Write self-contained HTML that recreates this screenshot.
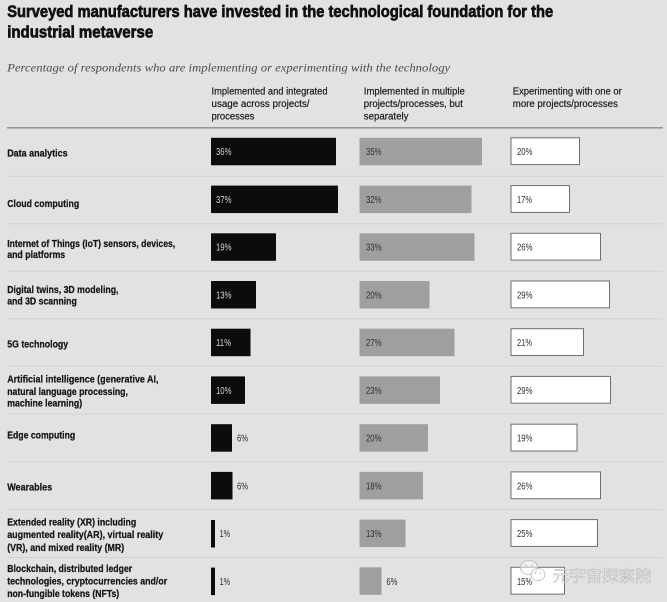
<!DOCTYPE html>
<html><head><meta charset="utf-8"><style>
html,body{margin:0;padding:0;background:#e2e3e1;}
svg{display:block;}
</style></head><body>
<svg width="667" height="602" viewBox="0 0 667 602" xmlns="http://www.w3.org/2000/svg" font-family="'Liberation Sans', sans-serif">
<rect x="0" y="0" width="667" height="602" fill="#e2e3e1"/>
<!-- title -->
<g font-size="17" font-weight="bold" fill="#111" stroke="#111" stroke-width="0.7">
<text x="7.2" y="16.8" textLength="546" lengthAdjust="spacingAndGlyphs">Surveyed manufacturers have invested in the technological foundation for the</text>
<text x="7.2" y="37.4" textLength="146" lengthAdjust="spacingAndGlyphs">industrial metaverse</text>
</g>
<text x="7.2" y="71.5" font-size="12" font-style="italic" font-family="'Liberation Serif', serif" fill="#4a4a4a" textLength="443" lengthAdjust="spacingAndGlyphs">Percentage of respondents who are implementing or experimenting with the technology</text>
<!-- headers -->
<g font-size="10" fill="#1a1a1a" stroke="#1a1a1a" stroke-width="0.2">
<text x="211.5" y="94.3" textLength="116" lengthAdjust="spacingAndGlyphs">Implemented and integrated</text>
<text x="211.5" y="107" textLength="98" lengthAdjust="spacingAndGlyphs">usage across projects/</text>
<text x="211.5" y="119.7" textLength="43" lengthAdjust="spacingAndGlyphs">processes</text>
<text x="363.8" y="94.3" textLength="101" lengthAdjust="spacingAndGlyphs">Implemented in multiple</text>
<text x="363.8" y="107" textLength="99" lengthAdjust="spacingAndGlyphs">projects/processes, but</text>
<text x="363.8" y="119.7" textLength="44.7" lengthAdjust="spacingAndGlyphs">separately</text>
<text x="512.8" y="94.3" textLength="109" lengthAdjust="spacingAndGlyphs">Experimenting with one or</text>
<text x="512.8" y="107" textLength="105" lengthAdjust="spacingAndGlyphs">more projects/processes</text>
</g>
<!-- separators -->
<g stroke="#d2d3d1" stroke-width="1">
<line x1="7" y1="176.2" x2="663" y2="176.2"/>
<line x1="7" y1="223.9" x2="663" y2="223.9"/>
<line x1="7" y1="271.2" x2="663" y2="271.2"/>
<line x1="7" y1="318.7" x2="663" y2="318.7"/>
<line x1="7" y1="366.3" x2="663" y2="366.3"/>
<line x1="7" y1="414.1" x2="663" y2="414.1"/>
<line x1="7" y1="461.8" x2="663" y2="461.8"/>
<line x1="7" y1="509.5" x2="663" y2="509.5"/>
<line x1="7" y1="557.5" x2="663" y2="557.5"/>
</g>
<line x1="7" y1="127.8" x2="663" y2="127.8" stroke="#8a8a8a" stroke-width="1.3"/>
<!-- row labels -->
<g font-size="10.5" font-weight="bold" fill="#151515" stroke="#151515" stroke-width="0.25">
<text x="7.2" y="156.7" textLength="60.4" lengthAdjust="spacingAndGlyphs">Data analytics</text>
<text x="7.2" y="207" textLength="72" lengthAdjust="spacingAndGlyphs">Cloud computing</text>
<text x="7.2" y="247" textLength="168" lengthAdjust="spacingAndGlyphs">Internet of Things (IoT) sensors, devices,</text>
<text x="7.2" y="257.8" textLength="58" lengthAdjust="spacingAndGlyphs">and platforms</text>
<text x="7.2" y="292.9" textLength="111.3" lengthAdjust="spacingAndGlyphs">Digital twins, 3D modeling,</text>
<text x="7.2" y="304.6" textLength="69.6" lengthAdjust="spacingAndGlyphs">and 3D scanning</text>
<text x="7.2" y="347.3" textLength="61" lengthAdjust="spacingAndGlyphs">5G technology</text>
<text x="7.2" y="382.6" textLength="151.3" lengthAdjust="spacingAndGlyphs">Artificial intelligence (generative AI,</text>
<text x="7.2" y="394.9" textLength="120.7" lengthAdjust="spacingAndGlyphs">natural language processing,</text>
<text x="7.2" y="406.6" textLength="75" lengthAdjust="spacingAndGlyphs">machine learning)</text>
<text x="7.2" y="438.3" textLength="68" lengthAdjust="spacingAndGlyphs">Edge computing</text>
<text x="7.2" y="490.3" textLength="45" lengthAdjust="spacingAndGlyphs">Wearables</text>
<text x="7.2" y="525.3" textLength="129" lengthAdjust="spacingAndGlyphs">Extended reality (XR) including</text>
<text x="7.2" y="537.9" textLength="156" lengthAdjust="spacingAndGlyphs">augmented reality(AR), virtual reality</text>
<text x="7.2" y="550.9" textLength="117" lengthAdjust="spacingAndGlyphs">(VR), and mixed reality (MR)</text>
<text x="7.2" y="571.9" textLength="125" lengthAdjust="spacingAndGlyphs">Blockchain, distributed ledger</text>
<text x="7.2" y="584.6" textLength="160" lengthAdjust="spacingAndGlyphs">technologies, cryptocurrencies and/or</text>
<text x="7.2" y="596.9" textLength="112" lengthAdjust="spacingAndGlyphs">non-fungible tokens (NFTs)</text>
</g>
<!-- black bars -->
<g fill="#0c0c0c">
<rect x="211" y="137.8" width="125" height="27.5"/>
<rect x="211" y="185.6" width="127" height="27.5"/>
<rect x="211" y="233.3" width="65" height="27.5"/>
<rect x="211" y="281" width="45" height="27.5"/>
<rect x="211" y="328.7" width="39.5" height="27.5"/>
<rect x="211" y="376.4" width="34" height="27.5"/>
<rect x="211" y="424.2" width="21" height="27.5"/>
<rect x="211" y="471.9" width="21.5" height="27.5"/>
<rect x="211" y="520" width="4" height="27.5"/>
<rect x="211" y="567.6" width="4" height="27.5"/>
</g>
<!-- gray bars -->
<g fill="#a09f9d">
<rect x="359.5" y="137.8" width="122.5" height="27.5"/>
<rect x="359.5" y="185.6" width="112" height="27.5"/>
<rect x="359.5" y="233.3" width="115" height="27.5"/>
<rect x="359.5" y="281" width="70" height="27.5"/>
<rect x="359.5" y="328.7" width="95" height="27.5"/>
<rect x="359.5" y="376.4" width="80.5" height="27.5"/>
<rect x="359.5" y="424.2" width="68.5" height="27.5"/>
<rect x="359.5" y="471.9" width="63.5" height="27.5"/>
<rect x="359.5" y="519.6" width="46" height="27.5"/>
<rect x="359.5" y="567.3" width="22" height="27.5"/>
</g>
<!-- white boxes -->
<g fill="#ffffff" stroke="#6e6e6e" stroke-width="1">
<rect x="511" y="137.8" width="68.5" height="26.8"/>
<rect x="511" y="185.6" width="58.5" height="26.8"/>
<rect x="511" y="233.3" width="89.5" height="26.8"/>
<rect x="511" y="281" width="98.5" height="26.8"/>
<rect x="511" y="328.7" width="72.5" height="26.8"/>
<rect x="511" y="376.4" width="99.5" height="26.8"/>
<rect x="511" y="424.2" width="66" height="26.8"/>
<rect x="511" y="471.9" width="89.5" height="26.8"/>
<rect x="511" y="519.6" width="86.5" height="26.8"/>
<rect x="511" y="567.3" width="53.5" height="26.8"/>
</g>
<!-- numbers black -->
<g font-size="10" fill="#d6d6d6">
<text x="216" y="155.2" textLength="15.5" lengthAdjust="spacingAndGlyphs">36%</text>
<text x="216" y="203" textLength="15.5" lengthAdjust="spacingAndGlyphs">37%</text>
<text x="216" y="250.7" textLength="15.5" lengthAdjust="spacingAndGlyphs">19%</text>
<text x="216" y="298.4" textLength="15.5" lengthAdjust="spacingAndGlyphs">13%</text>
<text x="216" y="346.1" textLength="15" lengthAdjust="spacingAndGlyphs">11%</text>
<text x="216" y="393.8" textLength="15.5" lengthAdjust="spacingAndGlyphs">10%</text>
</g>
<g font-size="10" fill="#2a2a2a">
<text x="237" y="441.6" textLength="11" lengthAdjust="spacingAndGlyphs">6%</text>
<text x="237" y="489.3" textLength="11" lengthAdjust="spacingAndGlyphs">6%</text>
<text x="219.6" y="537" textLength="10.5" lengthAdjust="spacingAndGlyphs">1%</text>
<text x="219.6" y="584.8" textLength="10.5" lengthAdjust="spacingAndGlyphs">1%</text>
<text x="386.4" y="584.8" textLength="11" lengthAdjust="spacingAndGlyphs">6%</text>
</g>
<!-- numbers gray -->
<g font-size="10" fill="#2e2e2e">
<text x="366" y="155.2" textLength="15.5" lengthAdjust="spacingAndGlyphs">35%</text>
<text x="366" y="203" textLength="15.5" lengthAdjust="spacingAndGlyphs">32%</text>
<text x="366" y="250.7" textLength="15.5" lengthAdjust="spacingAndGlyphs">33%</text>
<text x="366" y="298.4" textLength="15.5" lengthAdjust="spacingAndGlyphs">20%</text>
<text x="366" y="346.1" textLength="15.5" lengthAdjust="spacingAndGlyphs">27%</text>
<text x="366" y="393.8" textLength="15.5" lengthAdjust="spacingAndGlyphs">23%</text>
<text x="366" y="441.6" textLength="15.5" lengthAdjust="spacingAndGlyphs">20%</text>
<text x="366" y="489.3" textLength="15.5" lengthAdjust="spacingAndGlyphs">18%</text>
<text x="366" y="537" textLength="15.5" lengthAdjust="spacingAndGlyphs">13%</text>
</g>
<!-- numbers white -->
<g font-size="10" fill="#2e2e2e">
<text x="517" y="155.2" textLength="15.5" lengthAdjust="spacingAndGlyphs">20%</text>
<text x="517" y="203" textLength="15" lengthAdjust="spacingAndGlyphs">17%</text>
<text x="517" y="250.7" textLength="15.5" lengthAdjust="spacingAndGlyphs">26%</text>
<text x="517" y="298.4" textLength="15.5" lengthAdjust="spacingAndGlyphs">29%</text>
<text x="517" y="346.1" textLength="15" lengthAdjust="spacingAndGlyphs">21%</text>
<text x="517" y="393.8" textLength="15.5" lengthAdjust="spacingAndGlyphs">29%</text>
<text x="517" y="441.6" textLength="15.5" lengthAdjust="spacingAndGlyphs">19%</text>
<text x="517" y="489.3" textLength="15.5" lengthAdjust="spacingAndGlyphs">26%</text>
<text x="517" y="537" textLength="15.5" lengthAdjust="spacingAndGlyphs">25%</text>
<text x="517" y="584.8" textLength="15" lengthAdjust="spacingAndGlyphs">15%</text>
</g>
<!-- watermark -->
<g fill="rgba(255,255,255,0.5)" stroke="#b8b8b8" stroke-width="0.8">
<ellipse cx="529" cy="567.5" rx="8.5" ry="7"/>
<ellipse cx="538" cy="574.5" rx="7" ry="6"/>
</g>
<g fill="#bdbdbd">
<circle cx="526" cy="565.5" r="0.9"/><circle cx="532" cy="565.5" r="0.9"/>
<circle cx="535.5" cy="573" r="0.8"/><circle cx="540.5" cy="573" r="0.8"/>
</g>
<text x="552.5" y="581.5" font-size="16" font-family="'Liberation Sans','Noto Sans CJK SC',sans-serif" fill="#f6f6f6" stroke="#b2b2b2" stroke-width="0.5" textLength="99" lengthAdjust="spacingAndGlyphs">元宇宙探索院</text>
</svg>
</body></html>
